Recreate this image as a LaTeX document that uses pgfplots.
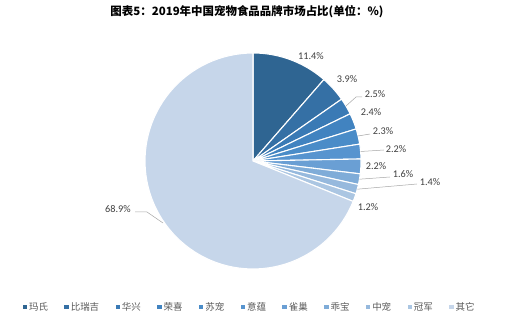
\documentclass[border=0pt]{standalone}
\usepackage{fontspec}
\setmainfont{Carlito}
\newfontfamily\cjk{Noto Sans CJK SC}
\usepackage{pgfplots}
\pgfplotsset{compat=1.18}
\definecolor{c1}{HTML}{2F6592}
\definecolor{c2}{HTML}{3570A5}
\definecolor{c3}{HTML}{3A7AB5}
\definecolor{c4}{HTML}{4183C0}
\definecolor{c5}{HTML}{4A8CC8}
\definecolor{c6}{HTML}{5794CF}
\definecolor{c7}{HTML}{6A9FD4}
\definecolor{c8}{HTML}{7FACD8}
\definecolor{c9}{HTML}{96B9DD}
\definecolor{c10}{HTML}{ABC6E2}
\definecolor{c11}{HTML}{C6D6EA}
\definecolor{labgray}{HTML}{404040}
\definecolor{leggray}{HTML}{595959}
\definecolor{linegray}{HTML}{A6A6A6}
\begin{document}
\begin{tikzpicture}
\begin{axis}[
  scale only axis, width=506bp, height=322bp,
  xmin=0, xmax=506, ymin=0, ymax=322,
  hide axis, clip=false,
  legend columns=-1,
  legend style={draw=none, fill=none, at={(axis cs:22.5,15)}, anchor=west,
    font=\cjk\fontsize{9.5}{10}\selectfont, text=leggray, inner sep=0pt,
    /tikz/every even column/.append style={column sep=14.4bp}},
  legend image code/.code={\fill[#1,draw=none] (0bp,-2.2bp) rectangle (4.4bp,2.2bp);},
]
\path (axis cs:0,0) rectangle (axis cs:506,322);
\xdef\cum{0}
\foreach \v/\c/\n in {11.4/c1/玛氏, 3.9/c2/比瑞吉, 2.5/c3/华兴, 2.4/c4/荣喜, 2.3/c5/苏宠, 2.2/c6/意蕴, 2.2/c7/雀巢, 1.6/c8/乖宝, 1.4/c9/中宠, 1.2/c10/冠军, 68.9/c11/其它}{
  \pgfmathsetmacro\a{90-3.6*(\cum+\v)}
  \pgfmathsetmacro\b{90-3.6*\cum}
  \pgfmathsetmacro\newcum{\cum+\v}
  \xdef\cum{\newcum}
  \edef\temp{\noexpand\addplot[fill=\c, draw=white, line width=1.1pt, domain=\a:\b, samples=80] ({253+108*cos(x)},{161+108*sin(x)}) -- (axis cs:253,161) -- cycle; \noexpand\addlegendentry{\n}}
  \temp
}
% title
\node[font=\cjk\bfseries\fontsize{11.5}{13}\selectfont, text=black] at (axis cs:247,310) {图表5：2019年中国宠物食品品牌市场占比(单位：\%)};
% leader lines
\begin{scope}[draw=linegray, line width=0.5pt]
\draw (axis cs:346,216) -- (axis cs:356,225) -- (axis cs:362,225);
\draw (axis cs:358,186) -- (axis cs:370,188);
\draw (axis cs:360.6,170.5) -- (axis cs:384,172);
\draw (axis cs:359.4,142.8) -- (axis cs:390,145);
\draw (axis cs:357.3,132.8) -- (axis cs:417,138);
\draw (axis cs:135,110) -- (axis cs:147,110) -- (axis cs:163,99);
\end{scope}
% labels
\begin{scope}[every node/.style={font=\fontsize{10.3}{12}\selectfont, text=labgray, inner sep=0pt}]
\node at (axis cs:311,266) {11.4\%};
\node at (axis cs:347,243) {3.9\%};
\node at (axis cs:375,228) {2.5\%};
\node at (axis cs:371,210) {2.4\%};
\node at (axis cs:383,191) {2.3\%};
\node at (axis cs:396,173) {2.2\%};
\node at (axis cs:376,156) {2.2\%};
\node at (axis cs:403,148) {1.6\%};
\node at (axis cs:430,140) {1.4\%};
\node at (axis cs:368,115) {1.2\%};
\node at (axis cs:118,113) {68.9\%};
\end{scope}
\end{axis}
\end{tikzpicture}
\end{document}
